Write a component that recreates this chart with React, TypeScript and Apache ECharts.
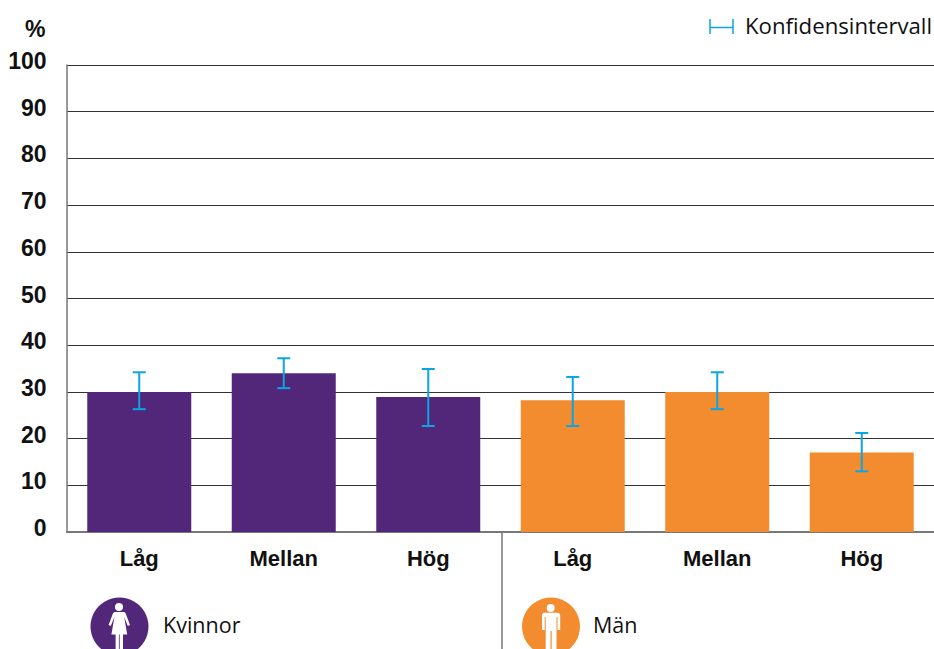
import React, { useEffect, useRef } from "react";
import * as echarts from "echarts";

const categories = ["Låg", "Mellan", "Hög", "Låg", "Mellan", "Hög"];
const values = [30, 34, 28.9, 28.2, 30, 17];
const lows = [26.3, 30.8, 22.7, 22.7, 26.3, 13];
const highs = [34.2, 37.2, 34.9, 33.2, 34.2, 21.2];
const barColors = ["#52277a", "#52277a", "#52277a", "#f28c2f", "#f28c2f", "#f28c2f"];
const groupLabels = ["Kvinnor", "Män"];
const legendLabel = "Konfidensintervall";
const unitLabel = "%";

const PURPLE = "#52277a";
const ORANGE = "#f28c2f";
const BLUE = "#0ba5e6";
const FONT = '"Liberation Sans", Arial, sans-serif';
const THIN = '"Open Sans", sans-serif';

const female =
  "M119 603a4 4 0 1 1 0 8a4 4 0 1 1 0 -8z M114.500 612h9c1 0 1.800.600 2.200 1.500l4.300 11.500l-2.200 1l-3.600-9l3 17.500h-4.200v15h-3.300v-15h-.800v15h-3.300v-15h-4.200l3-17.500l-3.600 9l-2.200-1l4.300-11.500c.400-.900 1.200-1.500 2.600-1.500z";
const male =
  "M550.700 604a4 4 0 1 1 0 8a4 4 0 1 1 0 -8z M544 612.800h13.400c1.600 0 2.800 1.200 2.800 2.800v14.400h-2.700v-13h-1v32h-4.800v-18h-1.200v18h-4.800v-32h-1v13h-2.700v-14.400c0-1.600 1.200-2.800 2-2.800z";
echarts.graphic.registerShape("femaleIcon", echarts.graphic.extendPath(female, {}));
echarts.graphic.registerShape("maleIcon", echarts.graphic.extendPath(male, {}));

export default function App() {
  const ref = useRef<HTMLDivElement>(null);
  useEffect(() => {
    const chart = echarts.init(ref.current!, undefined, { renderer: "svg" });
    chart.setOption({
      animation: false,
      grid: { left: 67, right: 0, top: 65, bottom: 117, containLabel: false },
      xAxis: {
        type: "category",
        data: categories,
        axisTick: { show: false },
        axisLine: { lineStyle: { color: "#777", width: 2 } },
        axisLabel: {
          interval: 0,
          color: "#111",
          fontFamily: FONT,
          fontWeight: "bold",
          fontSize: 22,
          margin: 15,
        },
      },
      yAxis: {
        type: "value",
        min: 0,
        max: 100,
        interval: 10,
        axisLine: { show: true, lineStyle: { color: "#777", width: 1.5 } },
        axisTick: { show: false },
        splitLine: { lineStyle: { color: "#333", width: 1 } },
        axisLabel: {
          color: "#111",
          fontFamily: FONT,
          fontWeight: "bold",
          fontSize: 23,
          margin: 20.5,
          lineHeight: 8,
          verticalAlign: "bottom",
        },
      },
      series: [
        {
          type: "bar",
          barWidth: 104,
          data: values.map((v, i) => ({ value: v, itemStyle: { color: barColors[i] } })),
          z: 2,
        },
        {
          type: "custom",
          z: 3,
          data: categories.map((_, i) => [i, lows[i], highs[i]]),
          encode: { x: 0, y: [1, 2] },
          renderItem: (_p: any, api: any) => {
            const x = api.coord([api.value(0), 0])[0];
            const lo = api.coord([api.value(0), api.value(1)])[1];
            const hi = api.coord([api.value(0), api.value(2)])[1];
            const style = { stroke: BLUE, lineWidth: 2, fill: "none" };
            const line = (x1: number, y1: number, x2: number, y2: number) => ({
              type: "line",
              shape: { x1, y1, x2, y2 },
              style,
            });
            return {
              type: "group",
              children: [
                line(x, lo, x, hi),
                line(x - 6.5, lo, x + 6.5, lo),
                line(x - 6.5, hi, x + 6.5, hi),
              ],
            };
          },
        },
      ],
      graphic: [
        { type: "text", x: 25, y: 17, style: { text: unitLabel, font: `bold 23px ${FONT}`, fill: "#111" } },
        { type: "line", shape: { x1: 710, y1: 27.5, x2: 733, y2: 27.5 }, style: { stroke: BLUE, lineWidth: 1.5 } },
        { type: "line", shape: { x1: 710, y1: 19, x2: 710, y2: 34 }, style: { stroke: BLUE, lineWidth: 1.5 } },
        { type: "line", shape: { x1: 733, y1: 19, x2: 733, y2: 34 }, style: { stroke: BLUE, lineWidth: 1.5 } },
        { type: "text", x: 745, y: 14, style: { text: legendLabel, font: `400 22.200px ${THIN}`, fill: "#111" } },
        { type: "line", shape: { x1: 502, y1: 532, x2: 502, y2: 649 }, style: { stroke: "#777", lineWidth: 1.5 } },
        { type: "circle", shape: { cx: 119.500, cy: 626.500, r: 29 }, style: { fill: PURPLE } },
        { type: "femaleIcon", style: { fill: "#fff" } },
        { type: "text", x: 163, y: 613, style: { text: groupLabels[0], font: `400 21.500px ${THIN}`, fill: "#111" } },
        { type: "circle", shape: { cx: 551, cy: 626.500, r: 29 }, style: { fill: ORANGE } },
        { type: "maleIcon", style: { fill: "#fff" } },
        { type: "text", x: 593, y: 613, style: { text: groupLabels[1], font: `400 21.500px ${THIN}`, fill: "#111" } },
      ],
    });
    return () => chart.dispose();
  }, []);
  return <div ref={ref} style={{ position: "absolute", left: 0, top: 0, width: 934, height: 649 }} />;
}
